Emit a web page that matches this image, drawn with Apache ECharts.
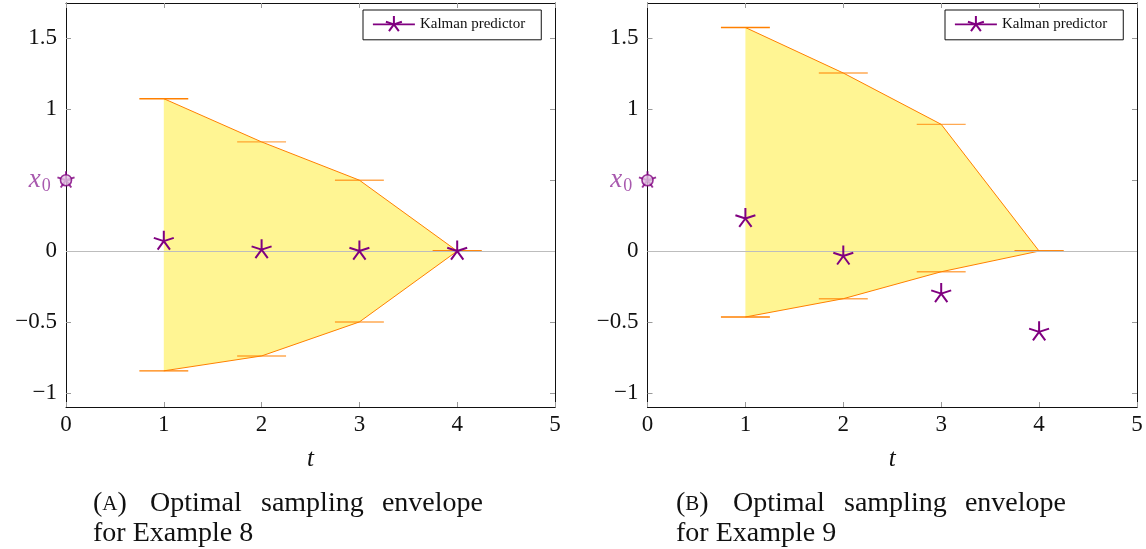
<!DOCTYPE html>
<html>
<head>
<meta charset="utf-8">
<script src="https://cdn.jsdelivr.net/npm/echarts@6/dist/echarts.min.js"></script>
<style>
  html, body { margin: 0; padding: 0; background: #fff; }
  #chart { width: 1146px; height: 549px; }
</style>
</head>
<body>
<div id="chart"></div>
<script>
// ---------- data ----------
const tSteps = [1, 2, 3, 4];
const upperA = [1.075, 0.77, 0.5, 0];
const lowerA = [-0.845, -0.74, -0.5, 0];
const kalmanA = [0.07, 0.01, 0.0, 0.0];
const upperB = [1.577, 1.256, 0.894, 0];
const lowerB = [-0.465, -0.336, -0.146, 0];
const kalmanB = [0.23, -0.035, -0.30, -0.57];
const x0Point = [0, 0.5];
const xTicks = [0, 1, 2, 3, 4, 5];
const yTicks = [-1, -0.5, 0, 0.5, 1, 1.5];
const yLabelValues = [-1, -0.5, 0, 1, 1.5];
const legendName = 'Kalman predictor';
const captionA = ['(A)', 'Optimal', 'sampling', 'envelope', 'for Example 8'];
const captionB = ['(B)', 'Optimal', 'sampling', 'envelope', 'for Example 9'];

// ---------- styles ----------
const FONT = 'Liberation Serif';
const purple = '#800080';
const orange = '#ff8000';
const fillColor = 'rgba(255, 236, 40, 0.5)';
const starPath = 'path://M0 0L0 -10M0 0L9.511 -3.09M0 0L5.878 8.09M0 0L-5.878 8.09M0 0L-9.511 -3.09M-10 -10L-10 -10M10 10L10 10';

const chart = echarts.init(document.getElementById('chart'), null, { renderer: 'canvas' });

function fmtY(v) {
  const s = String(Math.abs(v));
  return v < 0 ? '\u2212' + s : s;
}

function axesFor(g) {
  const common = { min: 0, max: 5, interval: 1, splitLine: { show: false } };
  const xs = [
    Object.assign({}, common, {
      type: 'value', gridIndex: g, position: 'bottom',
      axisLine: { show: true, onZero: false, lineStyle: { color: '#111', width: 1 } },
      axisTick: { show: true, inside: true, length: 5, lineStyle: { color: '#9a9a9a', width: 1 } },
      axisLabel: { show: true, margin: 6, fontFamily: FONT, fontSize: 23, color: '#111', formatter: v => String(v) },
      name: 't', nameLocation: 'middle', nameGap: 40,
      nameTextStyle: { fontFamily: FONT, fontStyle: 'italic', fontSize: 25, color: '#111' }
    }),
    Object.assign({}, common, {
      type: 'value', gridIndex: g, position: 'top',
      axisLine: { show: true, onZero: false, lineStyle: { color: '#111', width: 1 } },
      axisTick: { show: true, inside: true, length: 5, lineStyle: { color: '#9a9a9a', width: 1 } },
      axisLabel: { show: false }
    })
  ];
  const ycommon = { type: 'value', gridIndex: g, min: -1.1, max: 1.75, splitLine: { show: false } };
  const ys = [
    Object.assign({}, ycommon, {
      position: 'left',
      axisLine: { show: true, onZero: false, lineStyle: { color: '#111', width: 1 } },
      axisTick: { show: true, inside: true, length: 5, customValues: yTicks, lineStyle: { color: '#9a9a9a', width: 1 } },
      axisLabel: { show: true, margin: 9, customValues: yLabelValues, fontFamily: FONT, fontSize: 23, color: '#111', formatter: fmtY }
    }),
    Object.assign({}, ycommon, {
      position: 'right',
      axisLine: { show: true, onZero: false, lineStyle: { color: '#111', width: 1 } },
      axisTick: { show: true, inside: true, length: 5, customValues: yTicks, lineStyle: { color: '#9a9a9a', width: 1 } },
      axisLabel: { show: false }
    })
  ];
  return { xs, ys };
}

function seriesFor(g, upper, lower, kalman) {
  const xi = 2 * g, yi = 2 * g;
  const last = tSteps.length - 1;
  const fill = {
    type: 'custom', xAxisIndex: xi, yAxisIndex: yi, z: 1, silent: true,
    data: tSteps.map((t, i) => [t, lower[i], upper[i]]),
    encode: { x: 0, y: [1, 2] },
    renderItem: function (params, api) {
      if (params.dataIndex !== 0) return { type: 'group', children: [] };
      const pts = [];
      for (let i = 0; i < tSteps.length; i++) pts.push(api.coord([tSteps[i], upper[i]]));
      for (let i = tSteps.length - 1; i >= 0; i--) pts.push(api.coord([tSteps[i], lower[i]]));
      return { type: 'polygon', shape: { points: pts }, style: { fill: fillColor, stroke: null } };
    }
  };
  const barData = [];
  tSteps.forEach((t, i) => { barData.push([t, upper[i]]); barData.push([t, lower[i]]); });
  const bars = {
    type: 'custom', xAxisIndex: xi, yAxisIndex: yi, z: 2, silent: true,
    data: barData, encode: { x: 0, y: 1 },
    renderItem: function (params, api) {
      const t = api.value(0), y = api.value(1);
      const p1 = api.coord([t - 0.25, y]);
      const p2 = api.coord([t + 0.25, y]);
      const edge = (t === tSteps[0] || t === tSteps[last]);
      return {
        type: 'line',
        shape: { x1: p1[0], y1: p1[1], x2: p2[0], y2: p2[1] },
        style: { stroke: orange, lineWidth: 1.4, opacity: edge ? 1 : 0.68 }
      };
    },
    markLine: {
      silent: true, symbol: ['none', 'none'], label: { show: false },
      lineStyle: { color: '#bdbdbd', width: 1, type: 'solid' },
      data: [{ yAxis: 0 }]
    }
  };
  const upLine = {
    type: 'line', xAxisIndex: xi, yAxisIndex: yi, z: 3, silent: true,
    data: tSteps.map((t, i) => [t, upper[i]]), symbol: 'none',
    lineStyle: { color: orange, width: 1 }
  };
  const loLine = {
    type: 'line', xAxisIndex: xi, yAxisIndex: yi, z: 3, silent: true,
    data: tSteps.map((t, i) => [t, lower[i]]), symbol: 'none',
    lineStyle: { color: orange, width: 1 }
  };
  const kal = {
    name: legendName, type: 'line', xAxisIndex: xi, yAxisIndex: yi, z: 5,
    data: tSteps.map((t, i) => [t, kalman[i]]),
    symbol: starPath, symbolSize: 21, symbolKeepAspect: true, showSymbol: true,
    lineStyle: { width: 0, opacity: 0 },
    itemStyle: { color: 'rgba(0,0,0,0)', borderColor: purple, borderWidth: 2 },
    emphasis: { disabled: true }
  };
  const x0star = {
    type: 'scatter', xAxisIndex: xi, yAxisIndex: yi, z: 6, silent: true, clip: false,
    data: [x0Point], symbol: starPath, symbolSize: 18, symbolKeepAspect: true,
    itemStyle: { color: 'rgba(0,0,0,0)', borderColor: purple, borderWidth: 2 }
  };
  const x0circ = {
    type: 'scatter', xAxisIndex: xi, yAxisIndex: yi, z: 7, silent: true, clip: false,
    data: [x0Point], symbol: 'circle', symbolSize: 11,
    itemStyle: { color: '#e2c4e2', borderColor: purple, borderWidth: 1.6 },
    label: {
      show: true, position: 'left', distance: 9,
      formatter: '{x|x}{s|0}',
      rich: {
        x: { fontFamily: FONT, fontStyle: 'italic', fontSize: 27, color: '#92309a' },
        s: { fontFamily: FONT, fontSize: 18, color: '#92309a', padding: [12, 0, 0, 1] }
      }
    }
  };
  return [fill, bars, upLine, loLine, kal, x0star, x0circ];
}

function legendFor(left) {
  return {
    data: [legendName], left: left, top: 10, orient: 'horizontal',
    backgroundColor: '#fff', borderColor: '#111', borderWidth: 1, borderRadius: 0,
    padding: [5, 16, 6, 9], itemWidth: 42, itemHeight: 21, itemGap: 5,
    selectedMode: false,
    textStyle: { fontFamily: FONT, fontSize: 15, color: '#111' },
    lineStyle: { color: purple, width: 1.8, opacity: 1 }
  };
}

function captionFor(words, dx) {
  const base = { fontFamily: FONT, fontSize: 28, fill: '#111' };
  const y1 = 504, y2 = 534;
  const mk = (text, x, y, align, rich) => ({
    type: 'text', x: x + dx, y: y,
    style: Object.assign({}, base, { text: text, align: align, verticalAlign: 'middle' }, rich ? { rich: rich } : {})
  });
  const letter = words[0].replace(/[()]/g, '');
  return [
    mk('({sc|' + letter + '})', 93, y1, 'left', { sc: { fontFamily: FONT, fontSize: 21, fill: '#111' } }),
    mk(words[1], 150, y1, 'left'),
    mk(words[2], 261, y1, 'left'),
    mk(words[3], 483, y1, 'right'),
    mk(words[4], 93, y2, 'left')
  ];
}

const a0 = axesFor(0), a1 = axesFor(1);
const option = {
  animation: false,
  backgroundColor: '#fff',
  grid: [
    { left: 66, right: 591, top: 3, bottom: 142 },
    { left: 647.5, right: 9, top: 3, bottom: 142 }
  ],
  xAxis: a0.xs.concat(a1.xs),
  yAxis: a0.ys.concat(a1.ys),
  legend: [legendFor(363), legendFor(945)],
  series: seriesFor(0, upperA, lowerA, kalmanA).concat(seriesFor(1, upperB, lowerB, kalmanB)),
  graphic: captionFor(captionA, 0).concat(captionFor(captionB, 583))
};
chart.setOption(option);
</script>
</body>
</html>
